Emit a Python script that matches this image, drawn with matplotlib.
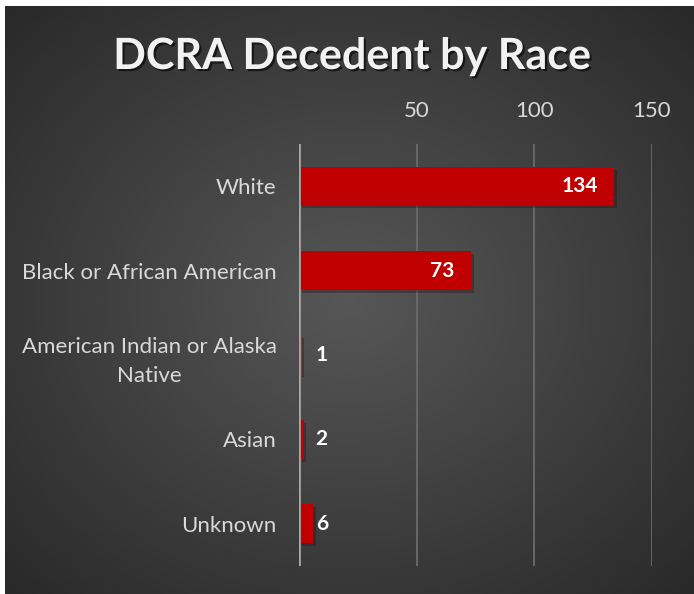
import numpy as np
import matplotlib.pyplot as plt
import matplotlib.patheffects as pe

categories = ['White', 'Black or African American',
              'American Indian or Alaska\nNative', 'Asian', 'Unknown']
counts = [134, 73, 1, 2, 6]
xticks = [50, 100, 150]

plt.rcParams['font.family'] = ['Lato', 'DejaVu Sans']

fig = plt.figure(figsize=(6.94, 5.94), dpi=100)
fig.patch.set_facecolor('white')

# dark radial gradient background (white strip at top and left)
bg = fig.add_axes([5 / 694, 0, 689 / 694, 588 / 594])
bg.axis('off')
yy, xx = np.mgrid[0:1:300j, 0:1:350j]
r = np.sqrt(((xx - 0.5) / 0.75) ** 2 + ((yy - 0.5) / 0.75) ** 2)
shade = np.clip(0.34 - 0.19 * r, 0.16, 0.34)
bg.imshow(np.dstack([shade] * 3), extent=[0, 1, 0, 1], aspect='auto', origin='lower')
bg.set_xlim(0, 1)
bg.set_ylim(0, 1)

fig.text(0.5 + 5 / 694, 1 - 56 / 594, 'DCRA Decedent by Race', ha='center', va='center',
         fontsize=31, fontweight='bold', color='#f2f2f2',
         path_effects=[pe.withSimplePatchShadow(offset=(1.5, -1.5), shadow_rgbFace='black', alpha=0.6)])

ax = fig.add_axes([299 / 694, 28 / 594, 353 / 694, 422 / 594])
ax.patch.set_alpha(0)
y = np.arange(len(categories))
bars = ax.barh(y, counts, height=0.46, color='#c00000', zorder=3,
               path_effects=[pe.withSimplePatchShadow(offset=(2, -2), alpha=0.3)])
ax.set_xlim(0, 150)
ax.set_ylim(len(categories) - 0.5, -0.5)

ax.set_xticks(xticks)
ax.xaxis.tick_top()
ax.tick_params(axis='x', length=0, pad=16.5, labelsize=16, labelcolor='#d9d9d9')
ax.set_yticks(y)
ax.set_yticklabels(categories, multialignment='center', linespacing=1.55)
ax.tick_params(axis='y', length=0, pad=16, labelsize=16, labelcolor='#d9d9d9')

for xv in xticks:
    ax.axvline(xv, color='#6b6b6b', lw=1.3, zorder=1)
ax.axvline(0, color='#a6a6a6', lw=2, zorder=4)
for s in ax.spines.values():
    s.set_visible(False)

for yi, v in zip(y, counts):
    if v > 20:
        ax.annotate(str(v), (v, yi), xytext=(-12, 0), textcoords='offset points',
                    ha='right', va='center', fontsize=15, fontweight='bold', color='white', zorder=5)
    else:
        ax.annotate(str(v), (0, yi), xytext=(12, 0), textcoords='offset points',
                    ha='left', va='center', fontsize=15, fontweight='bold', color='white', zorder=5)

fig.savefig('out.png', dpi=100)
